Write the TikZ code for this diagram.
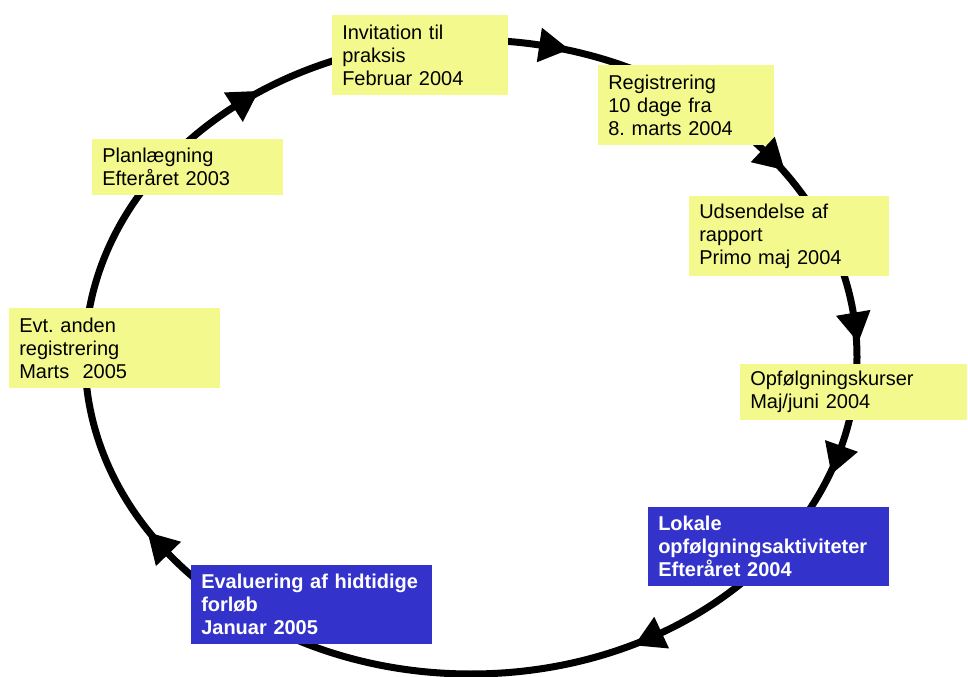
\documentclass[tikz,border=0pt]{standalone}
\usepackage{fontspec}
\setmainfont{Liberation Sans}
\frenchspacing
\definecolor{boxyellow}{RGB}{243,249,140}
\definecolor{boxblue}{RGB}{51,51,204}
\begin{document}
\begin{tikzpicture}[x=0.75pt,y=-0.75pt,
  stage/.style n args={3}{anchor=north west, draw=none, inner xsep=7.5pt, inner ysep=0pt,
    align=left, minimum width=#1, text width=#2, minimum height=#3,
    font=\fontsize{15}{17.25}\selectfont},
  yellowbox/.style={fill=boxyellow, text=black},
  bluebox/.style={fill=boxblue, text=white, font=\fontsize{15}{17.25}\selectfont\bfseries},
  ring/.style={line width=5.25pt, black}]
\useasboundingbox (0,0) rectangle (968,677);
% ring
\draw[ring] (471,357) ellipse [x radius=289.5pt, y radius=237.75pt];
% boxes
\node[stage={132pt}{117pt}{60pt}, yellowbox] (inv) at (332,15) {Invitation til\\praksis\\Februar 2004};
\node[stage={132pt}{117pt}{60pt}, yellowbox] (reg) at (598,65) {Registrering\\10 dage fra\\8. marts 2004};
\node[stage={150pt}{135pt}{60pt}, yellowbox] (uds) at (689,196) {Udsendelse af\\rapport\\Primo maj 2004};
\node[stage={170.25pt}{155.25pt}{42pt}, yellowbox] (opf) at (740,364) {Opfølgningskurser\\Maj/juni 2004};
\node[stage={180.75pt}{165.75pt}{59.25pt}, bluebox] (lok) at (648,507) {Lokale\\opfølgningsaktiviteter\\Efteråret 2004};
\node[stage={180.75pt}{165.75pt}{59.25pt}, bluebox] (eva) at (191,565) {Evaluering af hidtidige\\forløb\\Januar 2005};
\node[stage={158.25pt}{143.25pt}{60pt}, yellowbox] (evt) at (9,308) {Evt. anden\\registrering\\Marts\ \ 2005};
\node[stage={143.25pt}{128.25pt}{42pt}, yellowbox] (pla) at (92,139) {Planlægning\\Efteråret 2003};
% arrowheads along the ring (clockwise)
\foreach \t in {232,280.2,319.1,352,16.3,60.4,141.6} {
  \pgfmathsetmacro\bx{471+386*cos(\t)}
  \pgfmathsetmacro\by{357+317*sin(\t)}
  \pgfmathsetmacro\ux{-3.86*sin(\t)}
  \pgfmathsetmacro\uy{3.17*cos(\t)}
  \pgfmathsetmacro\nrm{sqrt(\ux*\ux+\uy*\uy)}
  \pgfmathsetmacro\ex{\ux/\nrm}
  \pgfmathsetmacro\ey{\uy/\nrm}
  \fill (\bx+30*\ex, \by+30*\ey) -- (\bx-17.5*\ey, \by+17.5*\ex) -- (\bx+17.5*\ey, \by-17.5*\ex) -- cycle;
}
\end{tikzpicture}
\end{document}
